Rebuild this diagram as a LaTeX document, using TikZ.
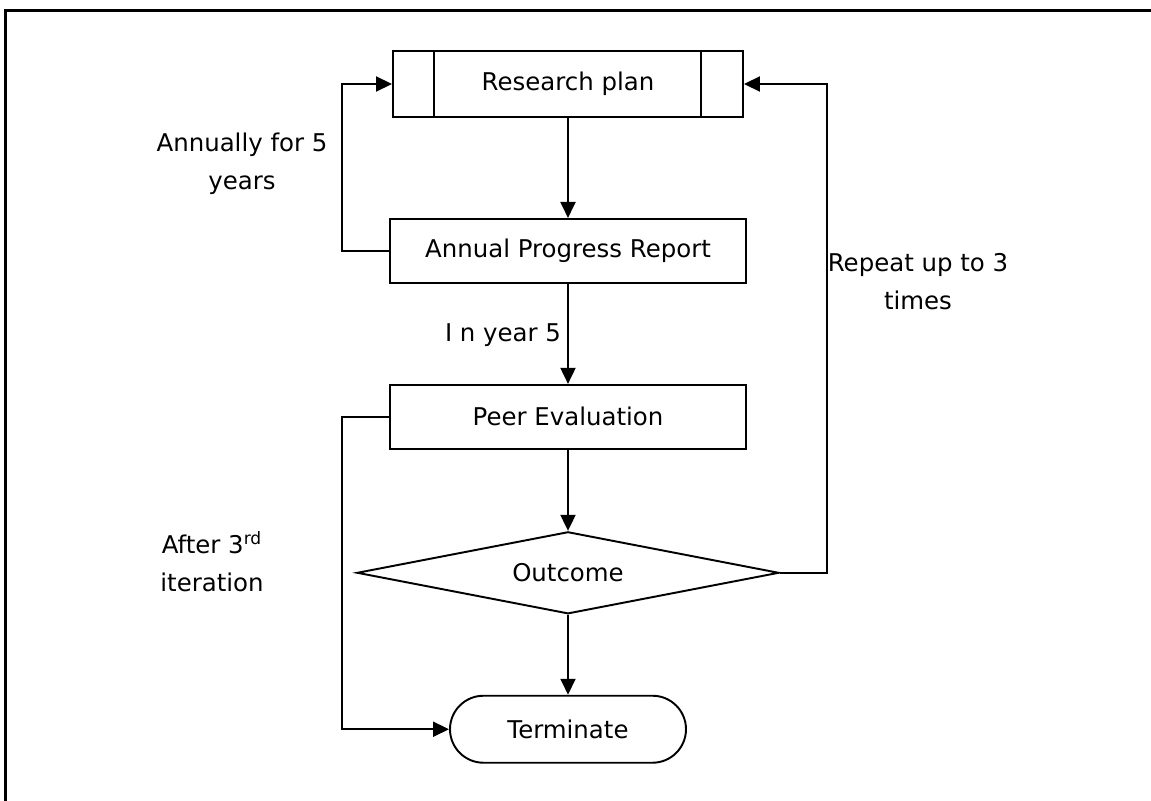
\documentclass[tikz,border=0pt]{standalone}
\usepackage{fontspec}
\setmainfont{DejaVu Sans}
\usepackage{tikz}
\usetikzlibrary{arrows.meta, positioning, shapes.geometric, shapes.misc}

\begin{document}
\begin{tikzpicture}[
    font=\fontsize{13.9}{21.6}\selectfont,
    line width=1.1pt,
    node distance=2cm,
    block/.style={draw, minimum width=7.12cm, minimum height=1.28cm, inner sep=0pt},
    decision/.style={draw, diamond, aspect=5.15, minimum width=8.44cm, minimum height=1.64cm, inner sep=0pt},
    stopnode/.style={draw, rounded rectangle, minimum width=4.72cm, minimum height=1.34cm, inner sep=0pt},
    lbl/.style={align=center, inner sep=0pt},
    arr/.style={-{Triangle[length=0.32cm, width=0.3cm]}}
]
\useasboundingbox (0,0) rectangle (23.02,-16.02);
\draw[line width=1.3pt] (0.11,-16.6) -- (0.11,-0.21) -- (23.6,-0.21);

\node[block, minimum width=7cm, minimum height=1.32cm] (plan) at (11.36,-1.68) {Research plan};
\draw ([xshift=0.84cm]plan.north west) -- ([xshift=0.84cm]plan.south west);
\draw ([xshift=-0.86cm]plan.north east) -- ([xshift=-0.86cm]plan.south east);
\node[block, below=of plan] (report) {Annual Progress Report};
\node[block, below=of report] (peer) {Peer Evaluation};
\node[decision, below=1.62cm of peer] (outcome) {Outcome};
\node[stopnode, below=1.6cm of outcome] (term) {Terminate};

\node[lbl] (annually) at (4.84,-3.28) {Annually for 5\\years};
\node[lbl, anchor=east] (year) at (11.24,-6.7) {I n year 5};
\node[lbl] (repeat) at (18.36,-5.64) {Repeat up to 3\\times};
\node[lbl] (after) at (4.24,-11.24) {After 3\textsuperscript{rd}\\iteration};

\draw[arr] (plan) -- (report);
\draw[arr] (report) -- (peer);
\draw[arr] (peer) -- (outcome);
\draw[arr] (outcome) -- (term);
\draw[arr] (report.west) -- ++(-0.94,0) |- (plan.west);
\draw[arr] (peer.west) -- ++(-0.94,0) |- (term.west);
\draw[arr] (outcome.east) -- ++(0.94,0) |- (plan.east);
\end{tikzpicture}
\end{document}
